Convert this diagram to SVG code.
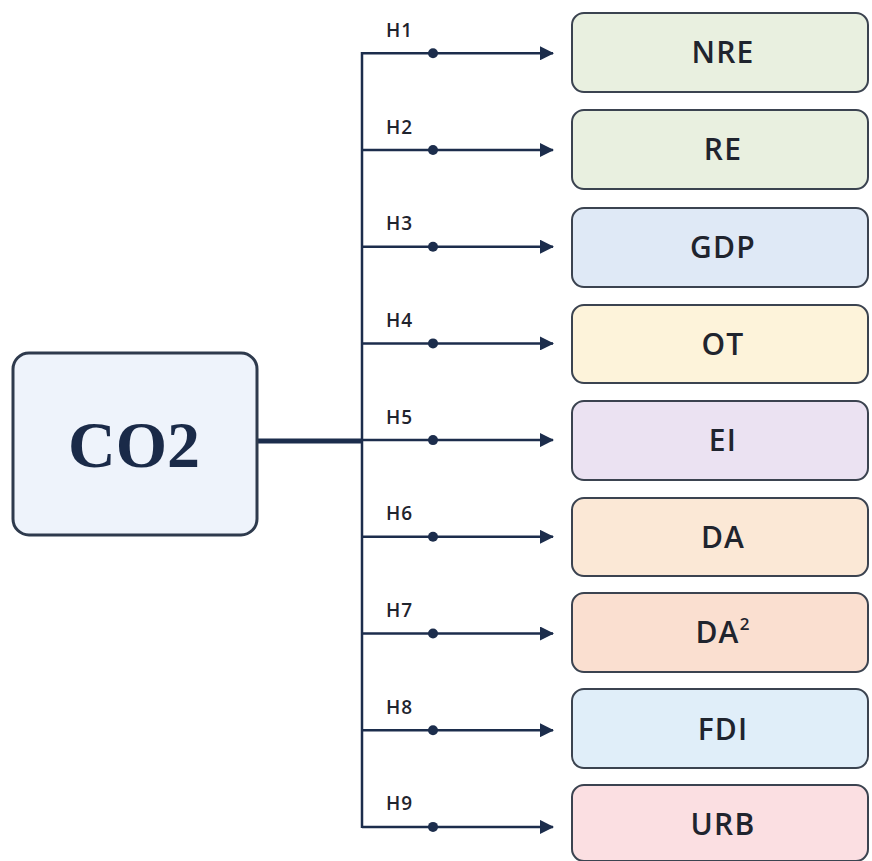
<svg xmlns="http://www.w3.org/2000/svg" width="872" height="861" viewBox="0 0 872 861">
<defs>
<style>
.box{stroke:#3b4350;stroke-width:2}
.lbl{font-family:"Open Sans","Liberation Sans",sans-serif;font-weight:600;font-size:30px;letter-spacing:1.2px;fill:#1f242e;text-anchor:middle}
.h{font-family:"Open Sans","Liberation Sans",sans-serif;font-weight:600;font-size:19px;letter-spacing:1px;fill:#1f242e}
.ln{stroke:#1c2d4c;stroke-width:2.5;fill:none}
.dot{fill:#1c2d4c}
</style>
<marker id="arr" viewBox="0 0 14 14" refX="13" refY="7" markerWidth="14" markerHeight="14" markerUnits="userSpaceOnUse" orient="auto">
<path d="M0,0 L14,7 L0,14 Z" fill="#1c2d4c"/>
</marker>
</defs>
<rect width="872" height="861" fill="#ffffff"/>
<g id="connectors">
<line class="ln" x1="257" y1="441" x2="362" y2="441" style="stroke-width:5"/>
<line class="ln" x1="362" y1="52" x2="362" y2="828"/>
<path class="ln" d="M362,53.3 H553" marker-end="url(#arr)"/>
<path class="ln" d="M362,150 H553" marker-end="url(#arr)"/>
<path class="ln" d="M362,246.7 H553" marker-end="url(#arr)"/>
<path class="ln" d="M362,343.4 H553" marker-end="url(#arr)"/>
<path class="ln" d="M362,440.1 H553" marker-end="url(#arr)"/>
<path class="ln" d="M362,536.8 H553" marker-end="url(#arr)"/>
<path class="ln" d="M362,633.5 H553" marker-end="url(#arr)"/>
<path class="ln" d="M362,730.2 H553" marker-end="url(#arr)"/>
<path class="ln" d="M362,826.9 H553" marker-end="url(#arr)"/>
<circle class="dot" cx="433" cy="53.3" r="5"/>
<circle class="dot" cx="433" cy="150" r="5"/>
<circle class="dot" cx="433" cy="246.7" r="5"/>
<circle class="dot" cx="433" cy="343.4" r="5"/>
<circle class="dot" cx="433" cy="440.1" r="5"/>
<circle class="dot" cx="433" cy="536.8" r="5"/>
<circle class="dot" cx="433" cy="633.5" r="5"/>
<circle class="dot" cx="433" cy="730.2" r="5"/>
<circle class="dot" cx="433" cy="826.9" r="5"/>
<text class="h" x="386" y="37">H1</text>
<text class="h" x="386" y="134">H2</text>
<text class="h" x="386" y="230">H3</text>
<text class="h" x="386" y="327">H4</text>
<text class="h" x="386" y="424">H5</text>
<text class="h" x="386" y="520">H6</text>
<text class="h" x="386" y="617">H7</text>
<text class="h" x="386" y="714">H8</text>
<text class="h" x="386" y="810">H9</text>
</g>
<g id="CO2">
<rect x="13" y="353" width="244" height="182" rx="16" fill="#eef3fb" stroke="#2e3a4d" stroke-width="3"/>
<text x="134" y="467" font-family="Liberation Serif,serif" font-weight="700" font-size="66" fill="#1a2a48" text-anchor="middle">CO2</text>
</g>
<g id="NRE"><rect class="box" x="572" y="13" width="296" height="79" rx="12" fill="#e9f0e0"/><text class="lbl" x="723" y="63">NRE</text></g>
<g id="RE"><rect class="box" x="572" y="110" width="296" height="79" rx="12" fill="#e9f0e0"/><text class="lbl" x="723" y="160">RE</text></g>
<g id="GDP"><rect class="box" x="572" y="208" width="296" height="79" rx="12" fill="#dfe9f6"/><text class="lbl" x="723" y="258">GDP</text></g>
<g id="OT"><rect class="box" x="572" y="305" width="296" height="78" rx="12" fill="#fdf3da"/><text class="lbl" x="723" y="355">OT</text></g>
<g id="EI"><rect class="box" x="572" y="401" width="296" height="79" rx="12" fill="#ebe2f2"/><text class="lbl" x="723" y="451">EI</text></g>
<g id="DA"><rect class="box" x="572" y="498" width="296" height="78" rx="12" fill="#fbe8d6"/><text class="lbl" x="723" y="548">DA</text></g>
<g id="DA2"><rect class="box" x="572" y="593" width="296" height="79" rx="12" fill="#fadfd0"/><text class="lbl" x="723" y="643">DA<tspan font-size="17" dy="-13">2</tspan></text></g>
<g id="FDI"><rect class="box" x="572" y="689" width="296" height="79" rx="12" fill="#e0eef9"/><text class="lbl" x="723" y="740">FDI</text></g>
<g id="URB"><rect class="box" x="572" y="785" width="296" height="76" rx="12" fill="#fbdfe2"/><text class="lbl" x="723" y="835">URB</text></g>
</svg>
